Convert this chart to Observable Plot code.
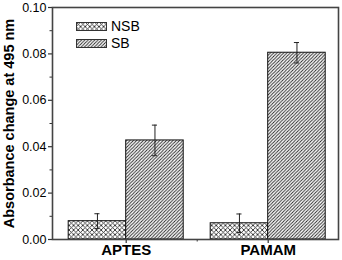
<!DOCTYPE html>
<html>
<head>
<meta charset="utf-8">
<script src="https://cdn.jsdelivr.net/npm/d3@7"></script>
<script src="https://cdn.jsdelivr.net/npm/@observablehq/plot@0.6"></script>
<style>
  html, body { margin: 0; padding: 0; background: #fff; }
  #wrap { position: relative; width: 342px; height: 260px; font-family: "Liberation Sans", Arial, sans-serif; }
  #legend { position: absolute; left: 76px; top: 18px; font-size: 14px; color: #000; line-height: 17px; }
  #legend div { display: flex; align-items: center; height: 17px; }
  #legend svg { margin-right: 4px; }
</style>
</head>
<body>
<div id="wrap"></div>
<script>
const categories = ["APTES", "PAMAM"];
const series = ["NSB", "SB"];
const nsbValues = [0.0079, 0.0070];
const nsbErrors = [0.0032, 0.0040];
const sbValues = [0.0427, 0.0805];
const sbErrors = [0.0066, 0.0044];
const yTicks = [0, 0.02, 0.04, 0.06, 0.08, 0.10];
const yMinorTicks = [0.01, 0.03, 0.05, 0.07, 0.09];

const half = 0.405;
const data = [];
categories.forEach((c, i) => {
  data.push({cat: c, series: "NSB", x1: i + 1 - half, x2: i + 1, v: nsbValues[i], e: nsbErrors[i]});
  data.push({cat: c, series: "SB", x1: i + 1, x2: i + 1 + half, v: sbValues[i], e: sbErrors[i]});
});
data.forEach(d => d.mid = (d.x1 + d.x2) / 2);
const fillFor = {NSB: "url(#pat-nsb)", SB: "url(#pat-sb)"};

const chart = Plot.plot({
  width: 342,
  height: 260,
  marginLeft: 52,
  marginRight: 4,
  marginTop: 7,
  marginBottom: 21,
  style: {fontFamily: "Liberation Sans, Arial, sans-serif", color: "#000", background: "#fff"},
  x: {type: "linear", domain: [1 - 73.7 / 142, 2 + 70.3 / 142]},
  y: {domain: [0, 0.1]},
  marks: [
    Plot.rectY(data, {x1: "x1", x2: "x2", y1: 0, y2: "v", fill: d => fillFor[d.series], stroke: "#111", strokeWidth: 1}),
    Plot.ruleX(data, {x: "mid", y1: d => d.v - d.e, y2: d => d.v + d.e, stroke: "#222", strokeWidth: 1}),
    Plot.ruleY(data, {y: d => d.v + d.e, x1: d => d.mid - 0.018, x2: d => d.mid + 0.018, stroke: "#222", strokeWidth: 1}),
    Plot.ruleY(data, {y: d => d.v - d.e, x1: d => d.mid - 0.018, x2: d => d.mid + 0.018, stroke: "#222", strokeWidth: 1}),
    Plot.axisY({ticks: yTicks, tickFormat: d3.format(".2f"), tickSize: 4, tickPadding: 2, fontSize: 12.5, label: null, stroke: "#333", strokeWidth: 1.2}),
    Plot.axisY({ticks: yMinorTicks, tickFormat: () => "", tickSize: 2.5, label: null, stroke: "#333"}),
    Plot.axisX({ticks: [1, 2], tickFormat: d => categories[d - 1], tickSize: 4, tickPadding: 1, fontSize: 15, fontWeight: "bold", label: null, stroke: "#333", strokeWidth: 1.2}),
    Plot.axisX({ticks: [1.5], tickFormat: () => "", tickSize: 2.5, label: null, stroke: "#333"}),
    Plot.frame({stroke: "#444", strokeWidth: 1.6}),
    Plot.text(["Absorbance change at 495 nm"], {frameAnchor: "left", textAnchor: "middle", rotate: -90, dx: -43, fontSize: 14.5, fontWeight: "bold", fill: "#000"})
  ]
});

function addPatterns(svg) {
  const ns = "http://www.w3.org/2000/svg";
  const defs = document.createElementNS(ns, "defs");
  defs.innerHTML = `
    <pattern id="pat-sb" patternUnits="userSpaceOnUse" width="3.3" height="3.3">
      <rect width="3.3" height="3.3" fill="#fff"/>
      <path d="M-1,1 l2,-2 M0,3.3 l3.3,-3.3 M2.3,4.3 l2,-2" stroke="#222" stroke-width="0.9"/>
    </pattern>
    <pattern id="pat-nsb" patternUnits="userSpaceOnUse" width="4.6" height="4.6">
      <rect width="4.6" height="4.6" fill="#fff"/>
      <path d="M0,0 l4.6,4.6 M4.6,0 l-4.6,4.6 M-1,3.6 l2,2 M3.6,-1 l2,2 M-1,1 l2,-2 M3.6,5.6 l2,-2" stroke="#222" stroke-width="0.85"/>
    </pattern>`;
  svg.insertBefore(defs, svg.firstChild);
}
addPatterns(chart);
const wrap = document.getElementById("wrap");
wrap.appendChild(chart);

const legend = document.createElement("div");
legend.id = "legend";
series.forEach(s => {
  const id = s === "NSB" ? "nsb" : "sb";
  const row = document.createElement("div");
  row.innerHTML = `<svg width="31" height="9" style="display:block">
    <defs>${chart.querySelector("#pat-" + id).outerHTML.replace('id="pat-' + id + '"', 'id="lg-' + id + '"')}</defs>
    <rect x="0.5" y="0.5" width="30" height="8" fill="url(#lg-${id})" stroke="#333" stroke-width="1"/></svg><span>${s}</span>`;
  legend.appendChild(row);
});
wrap.appendChild(legend);
</script>
</body>
</html>
